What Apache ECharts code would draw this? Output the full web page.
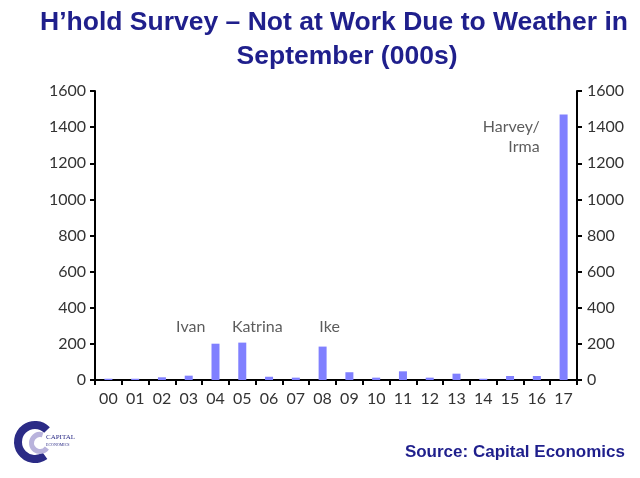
<!DOCTYPE html>
<html><head><meta charset="utf-8">
<script src="https://cdn.jsdelivr.net/npm/echarts@6/dist/echarts.min.js"></script>
<style>html,body{margin:0;padding:0;background:#fff}#c{width:640px;height:478px}</style>
</head><body><div id="c"></div>
<script>
const categories = ['00','01','02','03','04','05','06','07','08','09','10','11','12','13','14','15','16','17'];
const notAtWork = [7,7,15,24,201,207,18,13,185,43,13,48,13,35,7,22,22,1470];
const yTicks = {min:0, max:1600, interval:200};
const titleLines = ['H\u2019hold Survey \u2013 Not at Work Due to Weather in', 'September (000s)'];
const annotations = [
  {cat:'03', value:293, text:'Ivan'},
  {cat:'05', value:293, text:'Katrina'},
  {cat:'08', value:293, text:'Ike'},
  {cat:'17', value:1345, text:'Harvey/\nIrma'}
];
const annoOffsets = [[2,0],[15,0],[7,0],[-24,0]];
const navy = '#1f1f8c';
const chart = echarts.init(document.getElementById('c'));
const axisText = {color:'#333', fontFamily:'Lato', fontSize:16, formatter:(v)=>String(v)};
const titleStyle = {color:navy, fontFamily:'Liberation Sans, Arial', fontWeight:'bold', fontSize:26.5};
chart.setOption({
  animation:false,
  title:[
    {text:titleLines[0], left:329, top:4, textAlign:'center', textStyle:titleStyle},
    {text:titleLines[1], left:342, top:38, textAlign:'center', textStyle:titleStyle}
  ],
  grid:{left:95, right:63, top:91, bottom:98},
  xAxis:{type:'category', data:categories,
    axisLine:{lineStyle:{color:'#000', width:2}},
    axisTick:{show:true, length:5, lineStyle:{color:'#000', width:2}},
    axisLabel:{margin:11, color:'#333', fontFamily:'Lato', fontSize:16}},
  yAxis:[
    {type:'value', min:yTicks.min, max:yTicks.max, interval:yTicks.interval, position:'left',
      axisLine:{show:true, lineStyle:{color:'#000', width:2}},
      axisTick:{show:true, length:5, lineStyle:{color:'#000', width:2}},
      splitLine:{show:false}, axisLabel:Object.assign({margin:9}, axisText)},
    {type:'value', min:yTicks.min, max:yTicks.max, interval:yTicks.interval, position:'right',
      axisLine:{show:true, lineStyle:{color:'#000', width:2}},
      axisTick:{show:true, length:5, lineStyle:{color:'#000', width:2}},
      splitLine:{show:false}, axisLabel:Object.assign({margin:10}, axisText)}
  ],
  series:[
    {type:'bar', data:notAtWork, barWidth:8, itemStyle:{color:'#8080ff'}, silent:true},
    {type:'scatter', symbolSize:0, silent:true,
      data:annotations.map((a,i)=>({value:[a.cat,a.value], label:{show:true, position:'inside', formatter:a.text,
        offset:annoOffsets[i], align: a.cat==='17' ? 'right' : 'center',
        color:'#333', fontFamily:'Lato', fontSize:16, lineHeight:20}}))}
  ],
  graphic:[
    {type:'text', right:15, top:444, style:{text:'Source: Capital Economics', fill:navy, font:'bold 17px "Liberation Sans", Arial'}},
    {type:'sector', shape:{cx:35, cy:442, r:21, r0:13, startAngle:Math.PI*0.3, endAngle:Math.PI*1.75}, style:{fill:'#2b2b86'}},
    {type:'sector', shape:{cx:40, cy:443, r:11, r0:6, startAngle:Math.PI*0.2, endAngle:Math.PI*1.6}, style:{fill:'#b9b3dc'}},
    {type:'text', left:46, top:434, style:{text:'CAPITAL', fill:'#2b2b86', font:'7px "Liberation Serif", serif'}},
    {type:'text', left:46, top:443, style:{text:'ECONOMICS', fill:'#2b2b86', font:'4px "Liberation Serif", serif'}}
  ]
});
</script></body></html>
